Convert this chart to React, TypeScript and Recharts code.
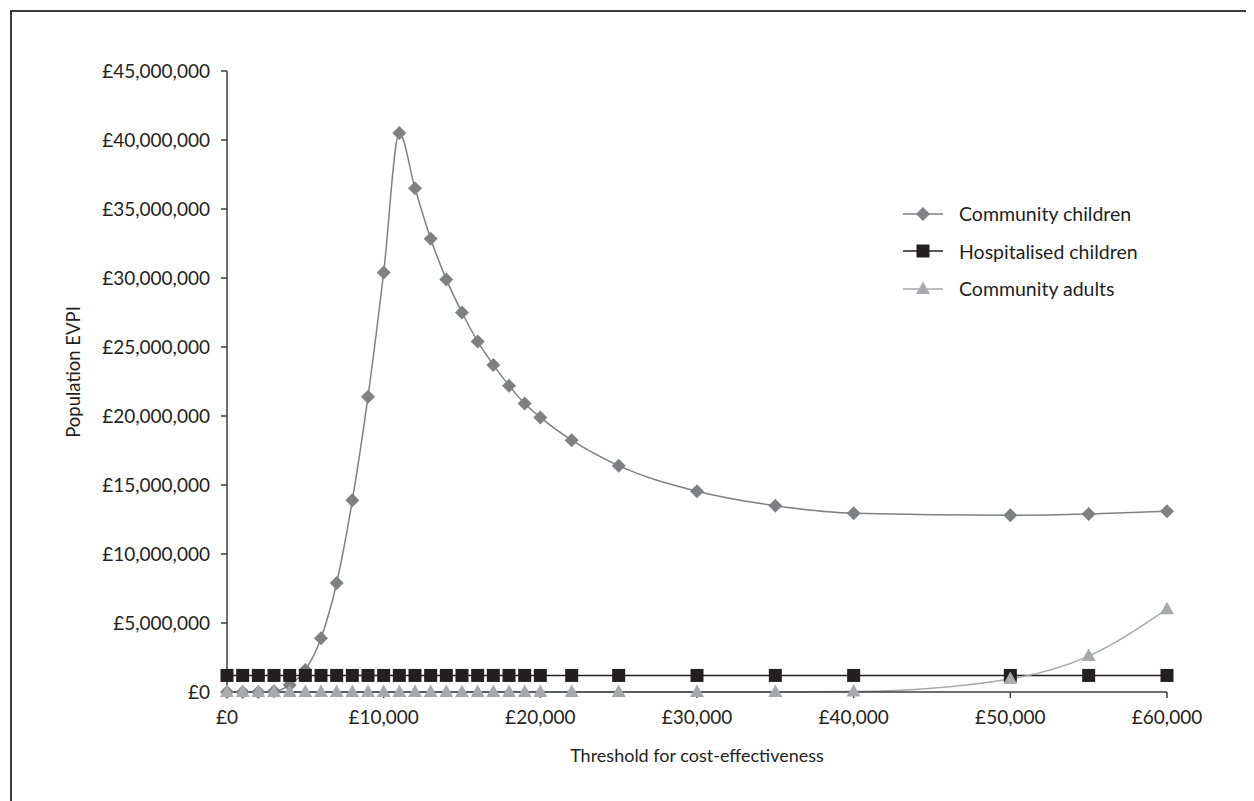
import { LineChart, Line, XAxis, YAxis } from "recharts";

// Threshold values (£) at which EVPI was evaluated
const thresholds = [
  0, 1000, 2000, 3000, 4000, 5000, 6000, 7000, 8000, 9000, 10000, 11000, 12000, 13000, 14000, 15000,
  16000, 17000, 18000, 19000, 20000, 22000, 25000, 30000, 35000, 40000, 50000, 55000, 60000,
];

const communityChildren = [
  0, 0, 0, 50000, 500000, 1600000, 3900000, 7900000, 13900000, 21400000, 30400000, 40500000, 36500000,
  32850000, 29900000, 27500000, 25400000, 23700000, 22200000, 20900000, 19900000, 18250000, 16400000,
  14550000, 13500000, 12950000, 12800000, 12900000, 13100000,
];

const hospitalisedChildren = [
  1200000, 1200000, 1200000, 1200000, 1200000, 1200000, 1200000, 1200000, 1200000, 1200000, 1200000,
  1200000, 1200000, 1200000, 1200000, 1200000, 1200000, 1200000, 1200000, 1200000, 1200000, 1200000,
  1200000, 1200000, 1200000, 1200000, 1200000, 1200000, 1200000,
];

const communityAdults = [
  0, 0, 0, 0, 0, 0, 0, 0, 0, 0, 0, 0, 0, 0, 0, 0, 0, 0, 0, 0, 0, 0, 0, 0, 0, 30000, 950000, 2600000, 6000000,
];

const xTicks = [0, 10000, 20000, 30000, 40000, 50000, 60000];
const yTicks = [0, 5000000, 10000000, 15000000, 20000000, 25000000, 30000000, 35000000, 40000000, 45000000];

const data = thresholds.map((t, i) => ({
  threshold: t,
  communityChildren: communityChildren[i],
  hospitalisedChildren: hospitalisedChildren[i],
  communityAdults: communityAdults[i],
}));

const FONT = "Lato, 'Open Sans', sans-serif";
const TEXT = "#231f20";
const C_CHILD = "#7f8083";
const C_HOSP = "#231f20";
const C_ADULT = "#a7a9ac";

const pounds = (v: number) => "£" + v.toLocaleString("en-GB");

function Diamond({ cx, cy, fill }: any) {
  const r = 7;
  return <polygon points={`${cx},${cy - r} ${cx + r},${cy} ${cx},${cy + r} ${cx - r},${cy}`} fill={fill} />;
}
function Square({ cx, cy, fill }: any) {
  return <rect x={cx - 6.5} y={cy - 6.5} width={13} height={13} fill={fill} />;
}
function Triangle({ cx, cy, fill }: any) {
  return <polygon points={`${cx},${cy - 7.5} ${cx + 7},${cy + 5} ${cx - 7},${cy + 5}`} fill={fill} />;
}

const YTitle = () => (
  <text x={65} y={364} transform="rotate(-90 65 364)" textAnchor="middle" dominantBaseline="central"
    fill={TEXT} fontSize={18.5} fontFamily={FONT}>
    Population EVPI
  </text>
);
const XTitle = () => (
  <text x={689} y={747} textAnchor="middle" dominantBaseline="central" fill={TEXT} fontSize={18} fontFamily={FONT}>
    Threshold for cost-effectiveness
  </text>
);

const legendItems = [
  { name: "Community children", color: C_CHILD, Shape: Diamond },
  { name: "Hospitalised children", color: C_HOSP, Shape: Square },
  { name: "Community adults", color: C_ADULT, Shape: Triangle },
];

export default function App() {
  return (
    <div style={{ position: "relative", width: 1246, height: 793, background: "#fff", fontFamily: FONT }}>
      <div style={{ position: "absolute", left: 2, top: 2, right: -10, bottom: -10, borderLeft: "2px solid #3c3c3c", borderTop: "2px solid #3c3c3c" }} />
      <LineChart width={1246} height={793} data={data} margin={{ top: 63, right: 87, left: 59, bottom: 49 }}>
        <XAxis
          dataKey="threshold"
          type="number"
          domain={[0, 60000]}
          ticks={xTicks}
          tickFormatter={pounds}
          height={60}
          tickSize={6}
          tickMargin={13}
          stroke="#3c3c3c"
          strokeWidth={1.5}
          tick={{ fill: TEXT, fontSize: 19, fontFamily: FONT }}
          label={<XTitle />}
        />
        <YAxis
          type="number"
          domain={[0, 45000000]}
          ticks={yTicks}
          tickFormatter={pounds}
          width={160}
          tickSize={6}
          tickMargin={11}
          stroke="#3c3c3c"
          strokeWidth={1.5}
          tick={{ fill: TEXT, fontSize: 19, fontFamily: FONT }}
          label={<YTitle />}
        />
        <Line
          type="monotone"
          dataKey="communityChildren"
          stroke={C_CHILD}
          strokeWidth={1.5}
          isAnimationActive={false}
          dot={(p: any) => <Diamond key={p.index} cx={p.cx} cy={p.cy} fill={C_CHILD} />}
          activeDot={false}
        />
        <Line
          type="linear"
          dataKey="hospitalisedChildren"
          stroke={C_HOSP}
          strokeWidth={1.5}
          isAnimationActive={false}
          dot={(p: any) => <Square key={p.index} cx={p.cx} cy={p.cy} fill={C_HOSP} />}
          activeDot={false}
        />
        <Line
          type="monotone"
          dataKey="communityAdults"
          stroke={C_ADULT}
          strokeWidth={1.5}
          isAnimationActive={false}
          dot={(p: any) => <Triangle key={p.index} cx={p.cx} cy={p.cy} fill={C_ADULT} />}
          activeDot={false}
        />
      </LineChart>
      <div style={{ position: "absolute", left: 893, top: 187 }}>
        {legendItems.map(({ name, color, Shape }) => (
          <div key={name} style={{ display: "flex", alignItems: "center", height: 37.5 }}>
            <svg width={44} height={20} style={{ marginRight: 14 }}>
              <line x1={2} y1={10} x2={42} y2={10} stroke={color} strokeWidth={1.5} />
              <Shape cx={22} cy={10} fill={color} />
            </svg>
            <span style={{ color: TEXT, fontSize: 19.5 }}>{name}</span>
          </div>
        ))}
      </div>
    </div>
  );
}
